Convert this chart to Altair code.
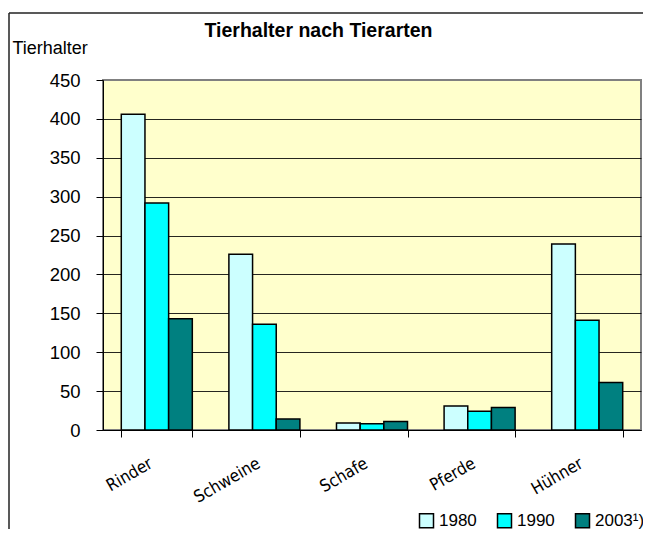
import altair as alt
import pandas as pd

categories = ["Rinder", "Schweine", "Schafe", "Pferde", "Hühner"]
years = ["1980", "1990", "2003¹)"]
v1980 = [406, 226, 9, 31, 239]
v1990 = [292, 136, 8, 24, 141]
v2003 = [143, 14, 11, 29, 61]
colors = ["#CCFFFF", "#00FFFF", "#008080"]
y_ticks = [0, 50, 100, 150, 200, 250, 300, 350, 400, 450]

rows = []
for yr, vals in zip(years, [v1980, v1990, v2003]):
    for c, v in zip(categories, vals):
        rows.append({"Tierart": c, "Jahr": yr, "Tierhalter": v})
df = pd.DataFrame(rows)

W, H = 538, 350
SANS = "Liberation Sans"

bars = alt.Chart(df).mark_bar(stroke="black", strokeWidth=1.5).encode(
    x=alt.X("Tierart:N", sort=categories,
            scale=alt.Scale(paddingInner=0.34, paddingOuter=0.17),
            axis=alt.Axis(title=None, labelAngle=-30, labelAlign="right",
                          labelBaseline="top", labelFont="DejaVu Sans Condensed",
                          labelFontSize=17, labelColor="black", labelPadding=18,
                          labelOffset=-10,
                          tickBand="extent", tickSize=7, tickColor="black",
                          domainColor="black", domainWidth=1, grid=False)),
    xOffset=alt.XOffset("Jahr:N", sort=years, scale=alt.Scale(paddingInner=0, paddingOuter=0)),
    y=alt.Y("Tierhalter:Q", scale=alt.Scale(domain=[0, 450], nice=False),
            axis=alt.Axis(values=y_ticks, title="Tierhalter", titleAngle=0,
                          titleAlign="left", titleBaseline="middle",
                          titleX=-91, titleY=-32, titleFont=SANS,
                          titleFontSize=18, titleFontWeight="normal", titleColor="black",
                          labelFont=SANS, labelFontSize=18.5, labelColor="black",
                          labelPadding=16, tickSize=7, tickColor="black",
                          domainColor="black", domainWidth=1,
                          grid=True, gridColor="black", gridWidth=1,
                          gridOpacity={"condition": {"test": "datum.value >= 450", "value": 0}, "value": 0.85})),
    color=alt.Color("Jahr:N", sort=years,
                    scale=alt.Scale(domain=years, range=colors),
                    legend=alt.Legend(title=None, orient="none", direction="horizontal",
                                      legendX=315, legendY=432,
                                      symbolType="square", symbolSize=196,
                                      symbolStrokeColor="black", symbolStrokeWidth=1.5,
                                      symbolOpacity=1, labelFont=SANS, labelFontSize=17,
                                      labelColor="black", labelOffset=4,
                                      columnPadding=17)),
)

frame_df = pd.DataFrame({"a": [0]})
frame_top = alt.Chart(frame_df).mark_rule(color="#222222", strokeWidth=1.5).encode(
    x=alt.value(-94), x2=alt.value(560), y=alt.value(-67))
frame_left = alt.Chart(frame_df).mark_rule(color="#222222", strokeWidth=1.5).encode(
    x=alt.value(-94), y=alt.value(-67), y2=alt.value(470))

chart = alt.layer(bars, frame_top, frame_left).properties(
    width=W, height=H,
    autosize=alt.AutoSizeParams(type="none"),
    padding={"left": 95, "top": 72, "right": 2, "bottom": 99},
    title=alt.TitleParams("Tierhalter nach Tierarten", font=SANS, fontSize=19.5,
                          fontWeight="bold", color="black", anchor="middle", dx=-53.5,
                          offset=-29),
).configure_view(
    fill="#FFFFCC", stroke="#808080", strokeWidth=2
)

chart.save("out.html", embed_options={"renderer": "svg", "actions": False})
